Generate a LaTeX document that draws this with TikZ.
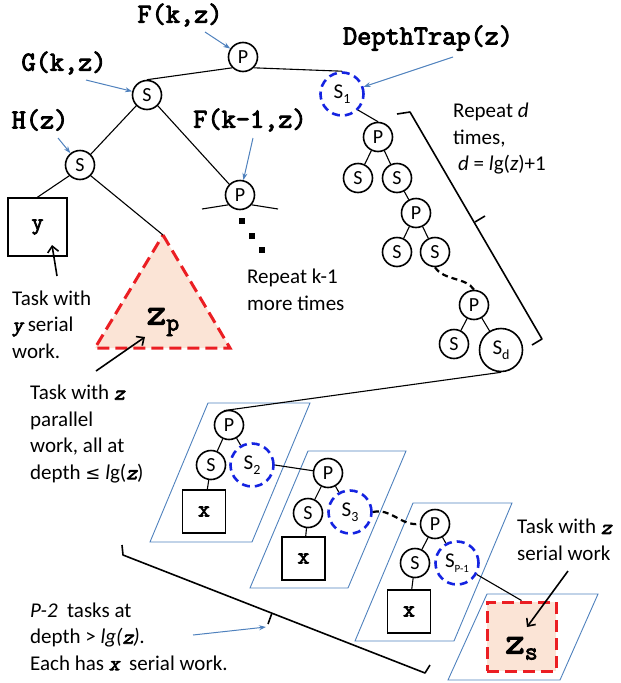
\documentclass[tikz,border=0pt]{standalone}
\usepackage{fontspec}
\setmainfont{Carlito}
\newfontfamily\symfont{DejaVu Sans}
\newfontfamily\cmono[AutoFakeBold=3.2,AutoFakeSlant=0.2]{Latin Modern Mono}
\usetikzlibrary{arrows.meta}
\definecolor{trapblue}{RGB}{20,35,225}
\definecolor{ptrblue}{RGB}{79,129,189}
\definecolor{taskred}{RGB}{235,30,35}
\definecolor{peach}{RGB}{251,228,214}
% bold italic typewriter variable inside running text
\newcommand{\cvar}[1]{{\cmono\bfseries\itshape #1}}
% lowered subscript for the circle labels
\newcommand{\lowsub}[2][14]{\raisebox{-0.45ex}{\fontsize{#1}{#1}\selectfont #2}}
% large task label with subscript
\newcommand{\bigtask}[2]{{\cmono\bfseries\fontsize{38}{38}\selectfont #1\raisebox{-6pt}{\fontsize{25}{25}\selectfont #2}}}

\begin{document}
\begin{tikzpicture}[x=1pt,y=-1pt,
  vert/.style={circle, draw, line width=1.6pt, minimum size=29pt, inner sep=0pt,
               font=\fontsize{20}{20}\selectfont},
  bigvert/.style={vert, minimum size=43pt, font=\fontsize{21}{21}\selectfont},
  trap/.style={circle, draw=trapblue, line width=2.6pt, dash pattern=on 8pt off 5pt,
               minimum size=43pt, inner sep=0pt, font=\fontsize{21}{21}\selectfont},
  treeline/.style={line width=1.1pt},
  linkdash/.style={line width=2.2pt, dash pattern=on 6pt off 4pt},
  taskbox/.style={draw, line width=1.6pt, inner sep=0pt, minimum size=43pt,
                  font=\cmono\bfseries\fontsize{23}{23}\selectfont},
  redtask/.style={draw=taskred, fill=peach, line width=3pt, dash pattern=on 12pt off 6pt},
  paraframe/.style={draw=ptrblue, line width=0.9pt},
  ptr/.style={ptrblue, line width=1pt, -{Stealth[length=7pt,width=5pt]}},
  callout/.style={line width=1.6pt, -{Straight Barb[length=6pt,width=11pt]}},
  bracketline/.style={line width=1.6pt, line join=round},
  codetag/.style={inner sep=0pt, font=\cmono\bfseries\fontsize{27.5}{27.5}\selectfont},
  notetext/.style={align=left, anchor=west, inner sep=0pt, font=\fontsize{21}{26.5}\selectfont},
  dotsq/.style={rectangle, fill=black, minimum size=6pt, inner sep=0pt},
]
\useasboundingbox (0,0) rectangle (621,683);

% ---------- frames of the serial tasks ----------
\draw[paraframe] (208,403) -- (310,403) -- (252,542) -- (150,542) -- cycle;
\draw[paraframe] (308,451) -- (406,451) -- (348,588) -- (250,588) -- cycle;
\draw[paraframe] (413,503) -- (512,503) -- (454,641) -- (355,641) -- cycle;
\draw[paraframe] (487,594) -- (598,594) -- (560,680) -- (448,680) -- cycle;

% ---------- parallel task triangle ----------
\coordinate (apex) at (163,235);
\coordinate (baseL) at (95,348);
\coordinate (baseR) at (230,348);
\draw[redtask] (apex) -- (baseR) -- (baseL) -- cycle;
\node[anchor=base, inner sep=0pt] (zp) at (163,324.5) {\bigtask{z}{p}};

% ---------- top of the tree ----------
\node[vert] (Ptop) at (243,57) {P};
\node[vert] (G) at (147,95) {S};
\node[vert] (H) at (80,165) {S};
\node[vert] (Pk1) at (240,195) {P};
\node[taskbox, minimum width=59pt, minimum height=58pt] (ybox) at (37.5,227) {\raisebox{-5pt}{y}};

\coordinate (k1L) at (202,209);
\coordinate (k1R) at (278,209);
\node[dotsq] (dk1) at (242,221) {};
\node[dotsq] (dk2) at (252,236) {};
\node[dotsq] (dk3) at (262,250) {};

% ---------- depth trap chain ----------
\node[trap] (S1) at (342,94) {S\lowsub{1}};
\node[vert] (C1P) at (378,137) {P};
\node[vert] (C1a) at (358,178) {S};
\node[vert] (C1b) at (397,178) {S};
\node[vert] (C2P) at (416,213) {P};
\node[vert] (C2a) at (397,252) {S};
\node[vert] (C2b) at (435,252) {S};
\node[vert] (C3P) at (474,305) {P};
\node[vert] (C3a) at (454,344) {S};
\node[bigvert] (Sd) at (501,350) {S\lowsub{d}};

% ---------- serial task spine ----------
\node[vert] (Q1P) at (229,425) {P};
\node[vert] (Q1S) at (211,465) {S};
\node[trap] (Q1T) at (252,465) {S\lowsub{2}};
\node[taskbox] (Q1X) at (204,511.5) {x};

\node[vert] (Q2P) at (328,473) {P};
\node[vert] (Q2S) at (308,513) {S};
\node[trap] (Q2T) at (350,512) {S\lowsub{3}};
\node[taskbox] (Q2X) at (303.5,558.5) {x};

\node[vert] (Q3P) at (435,524) {P};
\node[vert] (Q3S) at (415,563) {S};
\node[trap] (Q3T) at (457,563) {S\lowsub[11]{P-1}};
\node[taskbox] (Q3X) at (409,611.5) {x};

\node[redtask, minimum size=69pt, inner sep=0pt] (zsbox) at (521.5,636.5) {};
\node[anchor=base, inner sep=0pt] (zs) at (521.5,653.5) {\bigtask{z}{s}};

% ---------- tree edges ----------
\draw[treeline] (G.north) -- (Ptop.south west);
\draw[treeline] (Ptop.south east) -- (S1.north);
\draw[treeline] (G.south west) -- (H.north east);
\draw[treeline] (G.south east) -- (Pk1.north west);
\draw[treeline] (H.south west) -- (ybox.north);
\draw[treeline] (H.south east) -- (apex);
\draw[treeline] (Pk1.220) -- (k1L);
\draw[treeline] (Pk1.-40) -- (k1R);

\draw[treeline] (S1.south east) -- (C1P.north);
\draw[treeline] (C1P) -- (C1a);
\draw[treeline] (C1P) -- (C1b);
\draw[treeline] (C1b) -- (C2P);
\draw[treeline] (C2P) -- (C2a);
\draw[treeline] (C2P) -- (C2b);
\draw[linkdash] (C2b.south) .. controls (444,281) and (466,277) .. (C3P.north);
\draw[treeline] (C3P) -- (C3a);
\draw[treeline] (C3P) -- (Sd);
\draw[treeline] (Sd.south) -- (Q1P.110);

\draw[treeline] (Q1P) -- (Q1S);
\draw[treeline] (Q1P) -- (Q1T);
\draw[treeline] (Q1S) -- (Q1X);
\draw[treeline] (Q1T.east) -- (Q2P);
\draw[treeline] (Q2P) -- (Q2S);
\draw[treeline] (Q2P) -- (Q2T);
\draw[treeline] (Q2S) -- (Q2X);
\draw[linkdash] (Q2T.east) .. controls (392,508) and (400,526) .. (Q3P.west);
\draw[treeline] (Q3P) -- (Q3S);
\draw[treeline] (Q3P) -- (Q3T);
\draw[treeline] (Q3S) -- (Q3X);
\draw[treeline] (Q3T) -- (zsbox.north);

% ---------- brackets ----------
\draw[bracketline] (397,114) -- (410,112) -- (542,339) -- (532,345);
\draw[bracketline] (475,222) -- (485,216);
\draw[bracketline] (122,545) -- (123,555) -- (425,673) -- (430,665);
\coordinate (brMid) at (272,613);
\coordinate (brTick) at (268,624);
\draw[bracketline] (brMid) -- (brTick);

% ---------- code labels and pointers ----------
\node[codetag] (lblF) at (180,15) {F(k,z)};
\node[codetag] (lblG) at (64,63) {G(k,z)};
\node[codetag] (lblH) at (40,120) {H(z)};
\node[codetag] (lblFk) at (250,120) {F(k-1,z)};
\node[codetag] (lblD) at (428,38) {DepthTrap(z)};

\coordinate (tF) at (205,32);
\coordinate (tG) at (86,80);
\coordinate (tH) at (58,138);
\coordinate (tFk) at (253,138);
\coordinate (tD) at (453,57);
\coordinate (tP2) at (193,635);
\coordinate (hP2) at (266,627);
\draw[ptr] (tF) -- (Ptop);
\draw[ptr] (tG) -- (G);
\draw[ptr] (tH) -- (H);
\draw[ptr] (tFk) -- (Pk1);
\draw[ptr] (tD) -- (S1);
\draw[ptr] (tP2) -- (hP2);

% ---------- notes ----------
\node[notetext] (noteY) at (12,324.5) {Task with\\\cvar{y} serial\\work.};
\node[notetext] (noteZp) at (30,434) {Task with \cvar{z}\\parallel\\work, all at\\depth {\symfont\fontsize{18}{18}\selectfont ≤} \textit{l}g(\cvar{z})};
\node[notetext] (noteK) at (247,290) {Repeat k-1\\more times};
\node[notetext] (noteD) at (453,139) {Repeat \textit{d}\\times,\\\hspace*{5pt}\textit{d} = \textit{l}g(\textit{z})+1};
\node[notetext] (noteP) at (30,636.5) {\textit{P-2}\ \ tasks at\\depth > \textit{lg(}\cvar{z}\textit{).}\\Each has \cvar{x}\ \ serial work.};
\node[notetext] (noteZs) at (517,540) {Task with \cvar{z}\\serial work};

% ---------- callout arrows ----------
\coordinate (yTail) at (57,276);
\coordinate (yTip) at (52,245);
\coordinate (zpTail) at (96,371);
\coordinate (zpTip) at (145,337);
\coordinate (zsTail) at (568,571);
\coordinate (zsTip) at (527,627);
\draw[callout] (yTail) -- (yTip);
\draw[callout] (zpTail) -- (zpTip);
\draw[callout] (zsTail) -- (zsTip);
\end{tikzpicture}
\end{document}
